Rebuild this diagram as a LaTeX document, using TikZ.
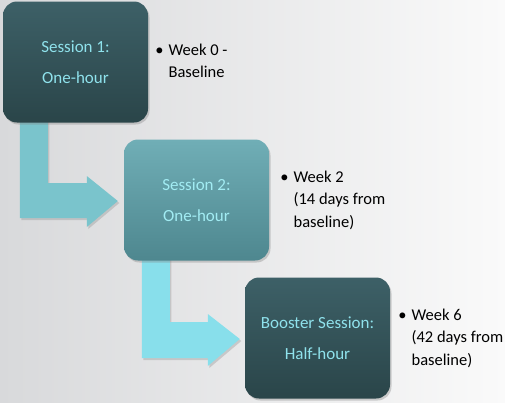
\documentclass[tikz,border=0pt]{standalone}
\usepackage{fontspec}
\setmainfont{Carlito}
\usetikzlibrary{shadows,calc}
\pgfdeclarelayer{bglayer}
\pgfdeclarelayer{arrowlayer}
\pgfsetlayers{bglayer,arrowlayer,main}
\definecolor{bgL}{HTML}{D8D9DB}
\definecolor{bgR}{HTML}{FAFAFA}
\definecolor{dkTop}{HTML}{3D6067}
\definecolor{dkBot}{HTML}{2A4549}
\definecolor{ltTop}{HTML}{70AEB6}
\definecolor{ltBot}{HTML}{4E878F}
\definecolor{boxtxt}{HTML}{8FE2EC}
\definecolor{boxtxtL}{HTML}{A2ECF3}
\definecolor{arrowA}{HTML}{7AC4CC}
\definecolor{arrowB}{HTML}{88DFEB}
\tikzset{
  sessbox/.style={rectangle, rounded corners=14pt, minimum width=145pt, minimum height=121pt,
    inner sep=0pt, align=center, text=boxtxt,
    font=\fontsize{17}{31}\selectfont,
    drop shadow={shadow xshift=1.5pt, shadow yshift=-2pt, opacity=0.35}},
  darkbox/.style={sessbox, top color=dkTop, bottom color=dkBot},
  lightbox/.style={sessbox, top color=ltTop, bottom color=ltBot, text=boxtxtL},
  note/.style={anchor=west, inner sep=0pt, align=left, text=black,
    font=\fontsize{16.5}{22.5}\selectfont},
  flowarrow/.style={draw=none,
    drop shadow={shadow xshift=1.5pt, shadow yshift=-2pt, opacity=0.3}},
}
\newcommand{\bul}[1]{\begin{tabular}{@{}l@{\hspace{5pt}}l@{}}\textbullet&#1\end{tabular}}
\begin{document}
\begin{tikzpicture}[x=1pt,y=-1pt]
\useasboundingbox (0,0) rectangle (505,402);
\begin{pgfonlayer}{bglayer}
\shade[left color=bgL, right color=bgR] (0,0) rectangle (505,402);
\end{pgfonlayer}

% boxes
\node[darkbox]  (b1) at (75.5,62)   {Session 1:\\One-hour};
\node[lightbox] (b2) at (196.5,200) {Session 2:\\One-hour};
\node[darkbox]  (b3) at (317.5,338) {Booster Session:\\Half-hour};

% arrows (behind boxes)
\coordinate (s1) at ($(b1.south west)+(17,-4)$);
\coordinate (t1) at ($(b2.west)+(-6,1)$);
\coordinate (s2) at ($(b2.south west)+(18,-4)$);
\coordinate (t2) at ($(b3.west)+(-5,1)$);
\begin{pgfonlayer}{arrowlayer}
\fill[arrowA, flowarrow] (s1) -- ++(28,0) |- ($(t1)+(-31,-18)$) -- ++(0,-7)
  -- (t1) -- ($(t1)+(-31,26)$) -- ++(0,-9) -| (s1) -- cycle;
\fill[arrowB, flowarrow] (s2) -- ++(28,0) |- ($(t2)+(-32,-17)$) -- ++(0,-8)
  -- (t2) -- ($(t2)+(-32,27)$) -- ++(0,-8) -| (s2) -- cycle;
\end{pgfonlayer}

% notes
\node[note] (n1) at ([xshift=7pt]b1.east) {\bul{Week 0 -\\&Baseline}};
\node[note] (n2) at ([xshift=11pt]b2.east) {\bul{Week 2\\&(14 days from\\&baseline)}};
\node[note] (n3) at ([xshift=8pt]b3.east) {\bul{Week 6\\&(42 days from\\&baseline)}};
\end{tikzpicture}
\end{document}
